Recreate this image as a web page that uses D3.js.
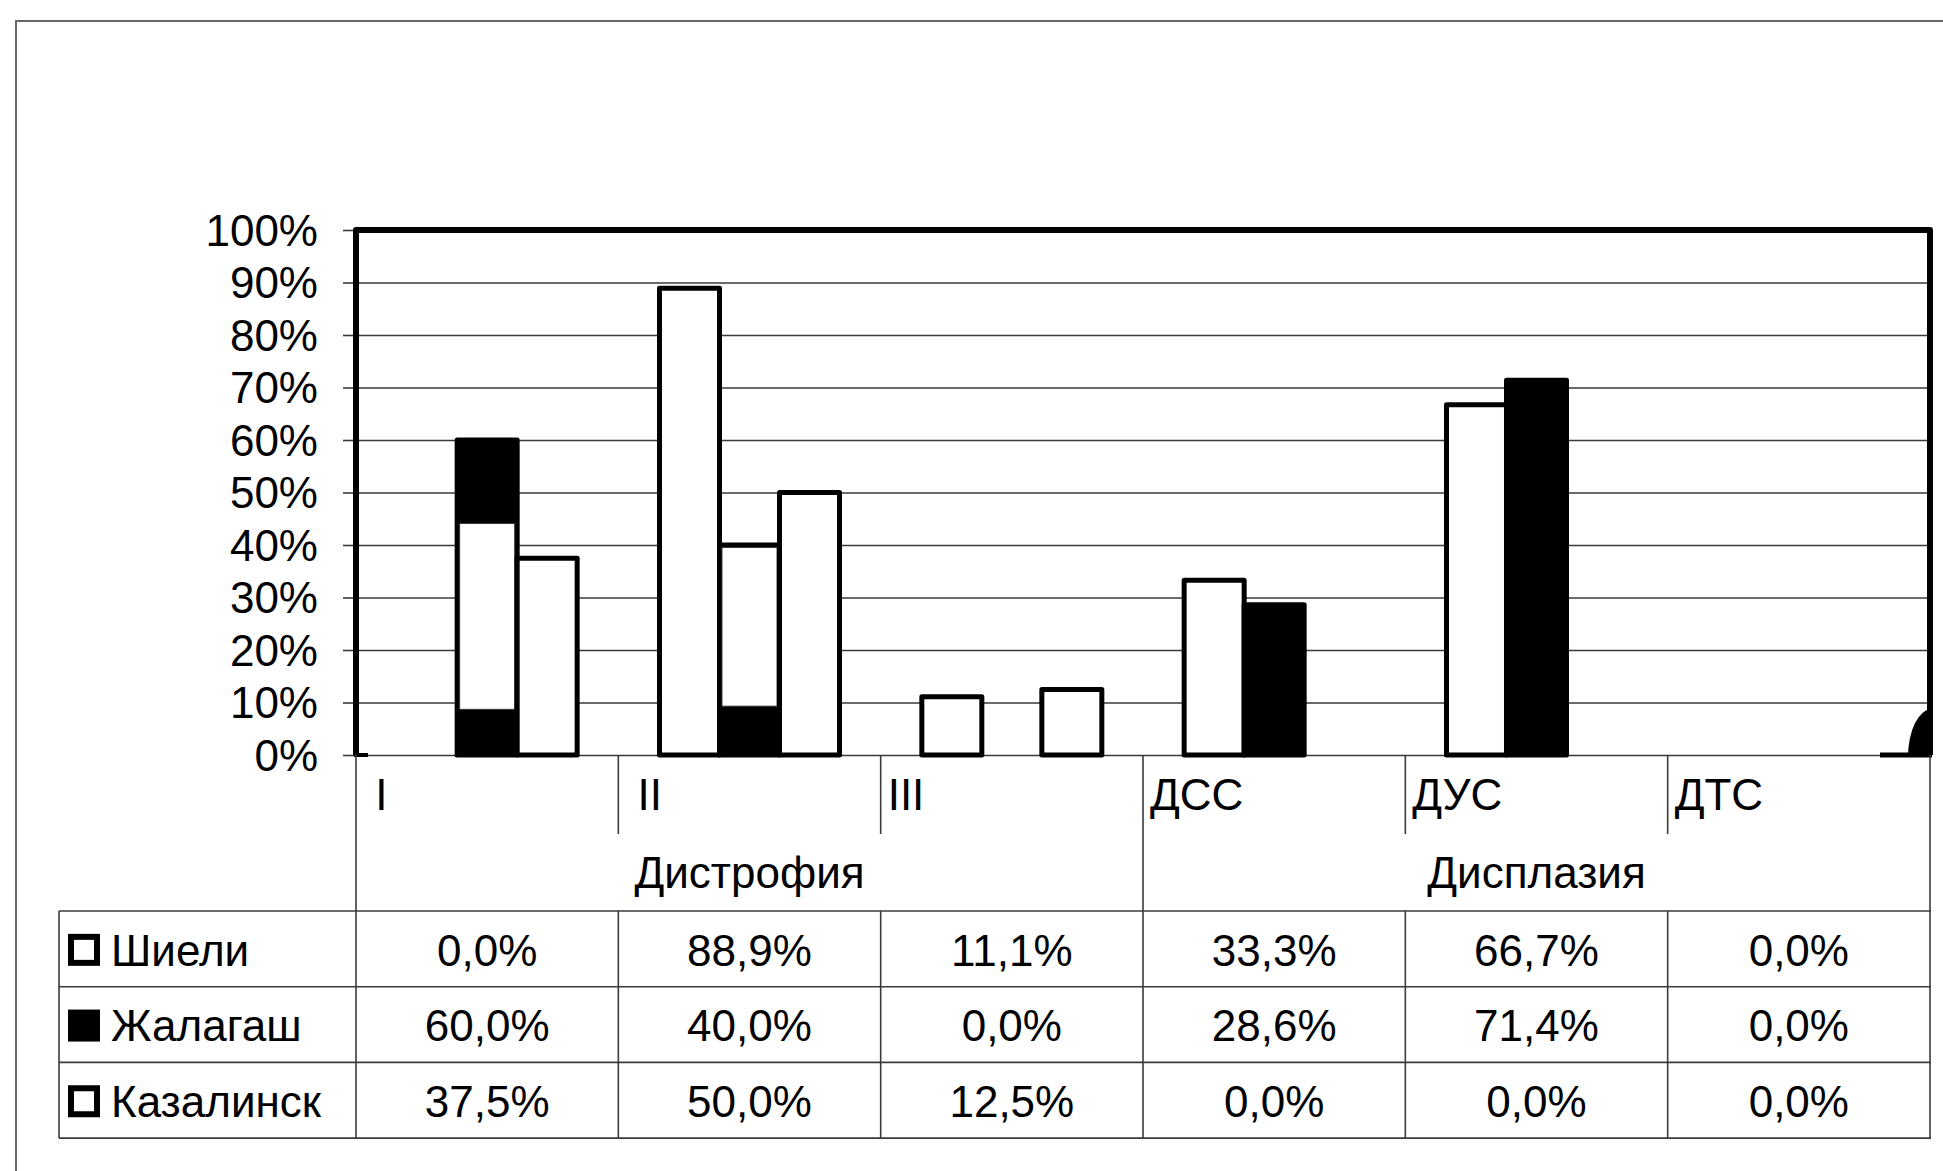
<!DOCTYPE html>
<html>
<head>
<meta charset="utf-8">
<script src="https://cdn.jsdelivr.net/npm/d3@7"></script>
<style>
  html, body { margin: 0; padding: 0; background: #fff; }
  svg text { font-family: "Liberation Sans", Arial, sans-serif; fill: #000; }
</style>
</head>
<body>
<svg id="chart" width="1943" height="1171"></svg>
<script>
// Categories along the x axis and their group headers
const categories = ["I", "II", "III", "ДСС", "ДУС", "ДТС"];
const categoryLabels = [" I", " II", "III", "ДСС", "ДУС", "ДТС"];
const groupNames = ["Дистрофия", "Дисплазия"];
const groupSizes = [3, 3];

// Series (percent values per category)
const seriesNames = ["Шиели", "Жалагаш", "Казалинск"];
const shieli    = [0.0, 88.9, 11.1, 33.3, 66.7, 0.0];
const zhalagash = [60.0, 40.0, 0.0, 28.6, 71.4, 0.0];
const kazalinsk = [37.5, 50.0, 12.5, 0.0, 0.0, 0.0];

// Light band shown inside the Жалагаш bars [from %, to %]
const zhalagashLightBand = [[8.7, 44.1], [9.3, 40.0], null, null, null, null];

// Y axis ticks
const yTicks = [0, 10, 20, 30, 40, 50, 60, 70, 80, 90, 100];

const seriesValues = [shieli, zhalagash, kazalinsk];
const seriesFill = ["#fff", "#000", "#fff"];

const svg = d3.select("#chart");
const W = 1943, H = 1171;
const plot = { left: 356, right: 1930, top: 230, bottom: 755 };
const catRowBottom = 834, groupRowBottom = 911;
const tableLeft = 59;
const rowH = 75.7;
const fontSize = 44;
const thin = "#3a3a3a";

svg.append("rect").attr("width", W).attr("height", H).attr("fill", "#fff");

// outer chart border (top and left edges visible)
svg.append("path")
  .attr("d", `M16,${H} L16,21 L${W},21`)
  .attr("fill", "none").attr("stroke", "#666").attr("stroke-width", 2);

const x0 = d3.scaleBand().domain(categories).range([plot.left, plot.right]).paddingInner(0).paddingOuter(0);
const x1 = d3.scaleBand().domain(seriesNames).range([0, x0.bandwidth()]).paddingInner(0).paddingOuter(0.686);
const y = d3.scaleLinear().domain([0, 100]).range([plot.bottom, plot.top]);

// gridlines + y axis
const yAxis = d3.axisLeft(y).tickValues(yTicks).tickSize(plot.left - plot.right).tickPadding(0)
  .tickFormat(d => d + "%");
const gy = svg.append("g").attr("transform", `translate(${plot.left},0)`).call(yAxis);
gy.select(".domain").remove();
gy.selectAll(".tick line").attr("stroke", thin).attr("stroke-width", 1.6);
gy.selectAll(".tick").append("line")
  .attr("x1", -13).attr("x2", 0).attr("stroke", thin).attr("stroke-width", 1.6);
gy.selectAll(".tick text")
  .attr("x", -38).attr("dy", "0.35em")
  .style("font-size", fontSize + "px").style("font-family", "'Liberation Sans', Arial, sans-serif")
  .attr("text-anchor", "end").attr("fill", "#000");

// bars
const barStroke = 5;
categories.forEach((c, ci) => {
  seriesNames.forEach((s, si) => {
    const v = seriesValues[si][ci];
    if (v <= 0) return;
    const bx = x0(c) + x1(s);
    const bw = x1.bandwidth();
    svg.append("rect")
      .attr("x", bx).attr("y", y(v))
      .attr("width", bw).attr("height", y(0) - y(v))
      .attr("fill", seriesFill[si]).attr("stroke", "#000")
      .attr("stroke-width", barStroke).attr("stroke-linejoin", "round");
    if (si === 1 && zhalagashLightBand[ci]) {
      const [lo, hi] = zhalagashLightBand[ci];
      const top = Math.max(y(hi), y(v) + barStroke / 2);
      svg.append("rect")
        .attr("x", bx + barStroke / 2).attr("y", top)
        .attr("width", bw - barStroke).attr("height", y(lo) - top)
        .attr("fill", "#fff").attr("stroke", thin).attr("stroke-width", 1);
    }
  });
});

// plot frame: thick top, left and right edges
svg.append("path")
  .attr("d", `M${plot.left},${plot.bottom} L${plot.left},${plot.top} L${plot.right},${plot.top} L${plot.right},${plot.bottom}`)
  .attr("fill", "none").attr("stroke", "#000").attr("stroke-width", 6).attr("stroke-linejoin", "round");

// corner marks at the base line
svg.append("line")
  .attr("x1", plot.left - 2).attr("x2", plot.left + 12)
  .attr("y1", plot.bottom).attr("y2", plot.bottom)
  .attr("stroke", "#000").attr("stroke-width", 4);
svg.append("line")
  .attr("x1", plot.right - 50).attr("x2", plot.right + 2)
  .attr("y1", plot.bottom).attr("y2", plot.bottom)
  .attr("stroke", "#000").attr("stroke-width", 5);
svg.append("path")
  .attr("d", `M${plot.right + 2},${plot.bottom + 2} L${plot.right + 2},${plot.bottom - 46} A24 48 0 0 0 ${plot.right - 22},${plot.bottom + 2} Z`)
  .attr("fill", "#000");

// ---- category / group header rows and data table ----
const lines = svg.append("g").attr("stroke", thin).attr("stroke-width", 1.6);
const bandEdges = categories.map(c => x0(c)).concat([plot.right]);

// category dividers (short) and group dividers (full height)
let groupEdgeIdx = [0];
groupSizes.reduce((acc, n) => { groupEdgeIdx.push(acc + n); return acc + n; }, 0);
bandEdges.forEach((xe, i) => {
  const isGroupEdge = groupEdgeIdx.includes(i);
  const yEnd = isGroupEdge ? groupRowBottom + rowH * 3 : catRowBottom;
  lines.append("line").attr("x1", xe).attr("x2", xe).attr("y1", plot.bottom).attr("y2", yEnd);
  if (!isGroupEdge) {
    lines.append("line").attr("x1", xe).attr("x2", xe)
      .attr("y1", groupRowBottom).attr("y2", groupRowBottom + rowH * 3);
  }
});

// category labels
svg.selectAll("text.cat").data(categories).join("text")
  .attr("class", "cat")
  .attr("x", c => x0(c) + 7)
  .attr("y", (plot.bottom + catRowBottom) / 2)
  .attr("dy", "0.35em")
  .style("font-size", fontSize + "px")
  .style("white-space", "pre")
  .text((c, i) => categoryLabels[i]);

// group labels
let start = 0;
groupNames.forEach((g, gi) => {
  const x0e = bandEdges[start], x1e = bandEdges[start + groupSizes[gi]];
  svg.append("text")
    .attr("x", (x0e + x1e) / 2).attr("y", (catRowBottom + groupRowBottom) / 2)
    .attr("dy", "0.35em").attr("text-anchor", "middle")
    .style("font-size", fontSize + "px")
    .text(g);
  start += groupSizes[gi];
});

// table rows
for (let r = 0; r <= 3; r++) {
  const yy = groupRowBottom + rowH * r;
  lines.append("line").attr("x1", tableLeft).attr("x2", plot.right + 1).attr("y1", yy).attr("y2", yy);
}
lines.append("line").attr("x1", tableLeft).attr("x2", tableLeft)
  .attr("y1", groupRowBottom).attr("y2", groupRowBottom + rowH * 3);

const fmt = v => v.toFixed(1).replace(".", ",") + "%";
seriesNames.forEach((s, si) => {
  const cy = groupRowBottom + rowH * si + rowH / 2;
  // legend key
  svg.append("rect")
    .attr("x", 71).attr("y", cy - 12)
    .attr("width", 26).attr("height", 26)
    .attr("fill", seriesFill[si]).attr("stroke", "#000").attr("stroke-width", 6);
  svg.append("text")
    .attr("x", 111).attr("y", cy).attr("dy", "0.38em")
    .style("font-size", fontSize + "px")
    .text(s);
  categories.forEach((c, ci) => {
    svg.append("text")
      .attr("x", x0(c) + x0.bandwidth() / 2).attr("y", cy).attr("dy", "0.38em")
      .attr("text-anchor", "middle")
      .style("font-size", fontSize + "px")
      .text(fmt(seriesValues[si][ci]));
  });
});
</script>
</body>
</html>
